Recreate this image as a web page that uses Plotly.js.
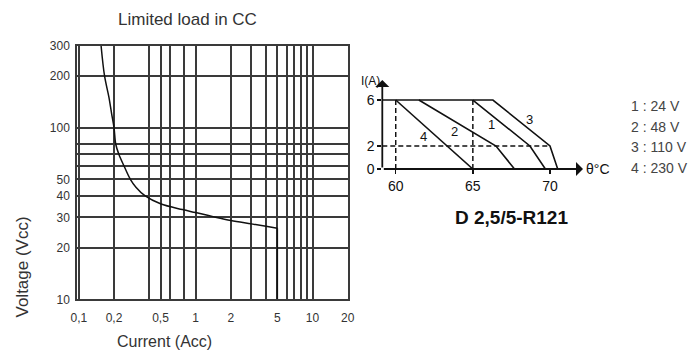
<!DOCTYPE html>
<html><head><meta charset="utf-8">
<script src="https://cdn.plot.ly/plotly-3.0.1.min.js"></script>
<style>html,body{margin:0;padding:0;background:#fff}</style>
</head><body><div id="chart" style="width:690px;height:352px"></div>
<script>
// ---- Left chart: Limited load in CC ----
const loadCurrent = [0.155, 0.166, 0.181, 0.191, 0.2, 0.207, 0.22, 0.243, 0.276, 0.308, 0.37, 0.5, 0.77, 1, 1.41, 2, 3, 4, 5, 5];
const loadVoltage = [300, 200, 150, 120, 100, 80, 70, 60, 50, 45, 40, 36, 33.3, 32, 30.3, 28.8, 27.5, 26.6, 25.9, 10];
const currentGrid = [0.1, 0.2, 0.4, 0.5, 0.6, 0.8, 1, 2, 3, 4, 5, 6, 7, 8, 9, 10, 20];
const currentTickText = ['0,1', '0,2', '', '0,5', '', '', '1', '2', '', '', '5', '', '', '', '', '10', '20'];
const voltageGrid = [10, 20, 30, 40, 50, 60, 70, 80, 100, 200, 300];
const voltageTickText = ['10', '20', '30', '40', '50', '', '', '', '100', '200', '300'];

// ---- Right chart: derating D 2,5/5-R121 ----
const tempMin = 59.13, tempMax = 72.14, currentMax = 7.74;
const line1Temp = [65, 68.7, 69.7];          const line1Current = [6, 2, 0];
const line2Temp = [61.5, 66.5, 67.7];        const line2Current = [6, 2, 0];
const line3Temp = [tempMin, 66.3, 70, 70.5]; const line3Current = [6, 6, 2, 0];
const line4Temp = [60, 65];                  const line4Current = [6, 0];
const refTemps = [60, 65];
const refCurrent = 2, refTempEnd = 70, ratedCurrent = 6;
const tempTicks = [60, 65, 70];
const currentTicks = [0, 2, 6];
const lineLabels = ['1', '2', '3', '4'];
const lineLabelTemp = [66.22, 63.84, 68.64, 61.83];
const lineLabelCurrent = [3.89, 3.24, 4.32, 2.81];
const legendText = ['1 : 24 V', '2 : 48 V', '3 : 110 V', '4 : 230 V'];

const W = 690, H = 352;
const fx = p => p / W, fy = p => 1 - p / H;
const FONT = 'Liberation Sans, Arial, sans-serif';
const INK = '#111';
const GRID = '#3a3a3a';

const traces = [];
const n = loadCurrent.length;
// smooth limit curve
traces.push({x: loadCurrent.slice(0, n - 1), y: loadVoltage.slice(0, n - 1), xaxis: 'x', yaxis: 'y', mode: 'lines',
  line: {color: INK, width: 1.5, shape: 'spline', smoothing: 1}, hoverinfo: 'skip', showlegend: false});
// vertical cut-off at the current limit
traces.push({x: loadCurrent.slice(n - 2), y: loadVoltage.slice(n - 2), xaxis: 'x', yaxis: 'y', mode: 'lines',
  line: {color: INK, width: 1.5}, hoverinfo: 'skip', showlegend: false});

refTemps.forEach(t => traces.push({x: [t, t], y: [0, ratedCurrent], xaxis: 'x2', yaxis: 'y2', mode: 'lines',
  line: {color: INK, width: 1.5, dash: '5px,3px'}, hoverinfo: 'skip', showlegend: false}));
traces.push({x: [tempMin, refTempEnd], y: [refCurrent, refCurrent], xaxis: 'x2', yaxis: 'y2', mode: 'lines',
  line: {color: INK, width: 1.5, dash: '5px,3px'}, hoverinfo: 'skip', showlegend: false});

[[line1Temp, line1Current], [line2Temp, line2Current], [line3Temp, line3Current], [line4Temp, line4Current]]
  .forEach(([t, c]) => traces.push({x: t, y: c, xaxis: 'x2', yaxis: 'y2', mode: 'lines',
    line: {color: INK, width: 1.6}, hoverinfo: 'skip', showlegend: false}));

const ann = [];
ann.push({text: 'Limited load in CC', x: fx(187), y: fy(20), xref: 'paper', yref: 'paper', showarrow: false,
  xanchor: 'center', yanchor: 'middle', font: {family: FONT, size: 17, color: '#333'}});
ann.push({text: 'Current (Acc)', x: fx(164), y: fy(341), xref: 'paper', yref: 'paper', showarrow: false,
  xanchor: 'center', yanchor: 'middle', font: {family: FONT, size: 16, color: '#333'}});
ann.push({text: 'Voltage (Vcc)', x: fx(21.5), y: fy(267), xref: 'paper', yref: 'paper', showarrow: false,
  textangle: -90, xanchor: 'center', yanchor: 'middle', font: {family: FONT, size: 17, color: '#333'}});
ann.push({text: 'I(A)', x: fx(370), y: fy(81), xref: 'paper', yref: 'paper', showarrow: false,
  xanchor: 'center', yanchor: 'middle', font: {family: FONT, size: 12, color: INK}});
ann.push({text: 'θ°C', x: tempMax, y: 0, xref: 'x2', yref: 'y2', showarrow: false, xshift: 1,
  xanchor: 'left', yanchor: 'middle', font: {family: FONT, size: 14, color: INK}});
ann.push({text: '<b>D 2,5/5-R121</b>', x: fx(511), y: fy(217), xref: 'paper', yref: 'paper', showarrow: false,
  xanchor: 'center', yanchor: 'middle', font: {family: FONT, size: 19, color: INK}});
const legendY = [105.7, 126.7, 147.3, 168.3];
legendText.forEach((t, i) => ann.push({text: t, x: fx(629), y: fy(legendY[i]), xref: 'paper', yref: 'paper',
  showarrow: false, xanchor: 'left', yanchor: 'middle', font: {family: FONT, size: 14, color: '#444'}}));
lineLabels.forEach((t, i) => ann.push({text: t, x: lineLabelTemp[i], y: lineLabelCurrent[i], xref: 'x2', yref: 'y2',
  showarrow: false, xanchor: 'center', yanchor: 'middle', font: {family: FONT, size: 13, color: INK}}));
// axis arrows
ann.push({text: '', x: tempMax, y: 0, ax: tempMin, ay: 0, xref: 'x2', yref: 'y2', axref: 'x2', ayref: 'y2',
  showarrow: true, arrowhead: 1, arrowsize: 1.3, arrowwidth: 1.8, arrowcolor: INK, standoff: 0, startstandoff: 0});
ann.push({text: '', x: tempMin, y: currentMax, ax: tempMin, ay: 0, xref: 'x2', yref: 'y2', axref: 'x2', ayref: 'y2',
  showarrow: true, arrowhead: 1, arrowsize: 1.3, arrowwidth: 1.8, arrowcolor: INK, standoff: 0, startstandoff: 0});

const gridAxis = {
  type: 'log', tickmode: 'array', showgrid: true, gridcolor: GRID, gridwidth: 2,
  showline: true, mirror: true, linecolor: GRID, linewidth: 2, ticks: '', zeroline: false,
  tickfont: {family: FONT, size: 12, color: '#333'}, fixedrange: true
};

const layout = {
  width: W, height: H, margin: {l: 0, r: 0, t: 0, b: 0},
  paper_bgcolor: '#fff', plot_bgcolor: 'rgba(0,0,0,0)', showlegend: false,
  xaxis: Object.assign({}, gridAxis, {domain: [fx(77.3), fx(347.7)], anchor: 'y',
    range: [Math.log10(0.097), Math.log10(20)], tickvals: currentGrid, ticktext: currentTickText, ticklabelstandoff: 6}),
  yaxis: Object.assign({}, gridAxis, {domain: [fy(299.3), fy(45.7)], anchor: 'x',
    range: [1, Math.log10(300)], tickvals: voltageGrid, ticktext: voltageTickText, ticklabelstandoff: 3}),
  xaxis2: {domain: [fx(382.3), fx(583)], anchor: 'y2', range: [tempMin, tempMax], tickmode: 'array',
    tickvals: tempTicks, ticks: 'outside', ticklen: 4, tickwidth: 1.5, tickcolor: INK, showline: false,
    showgrid: false, zeroline: false, tickfont: {family: FONT, size: 14, color: INK}, fixedrange: true},
  yaxis2: {domain: [fy(169), fy(80)], anchor: 'x2', range: [0, currentMax], tickmode: 'array',
    tickvals: currentTicks, ticks: 'outside', ticklen: 4, tickwidth: 1.5, tickcolor: INK, showline: false,
    showgrid: false, zeroline: false, tickfont: {family: FONT, size: 14, color: INK}, fixedrange: true},
  annotations: ann
};

Plotly.newPlot('chart', traces, layout, {displayModeBar: false, staticPlot: true});
</script></body></html>
